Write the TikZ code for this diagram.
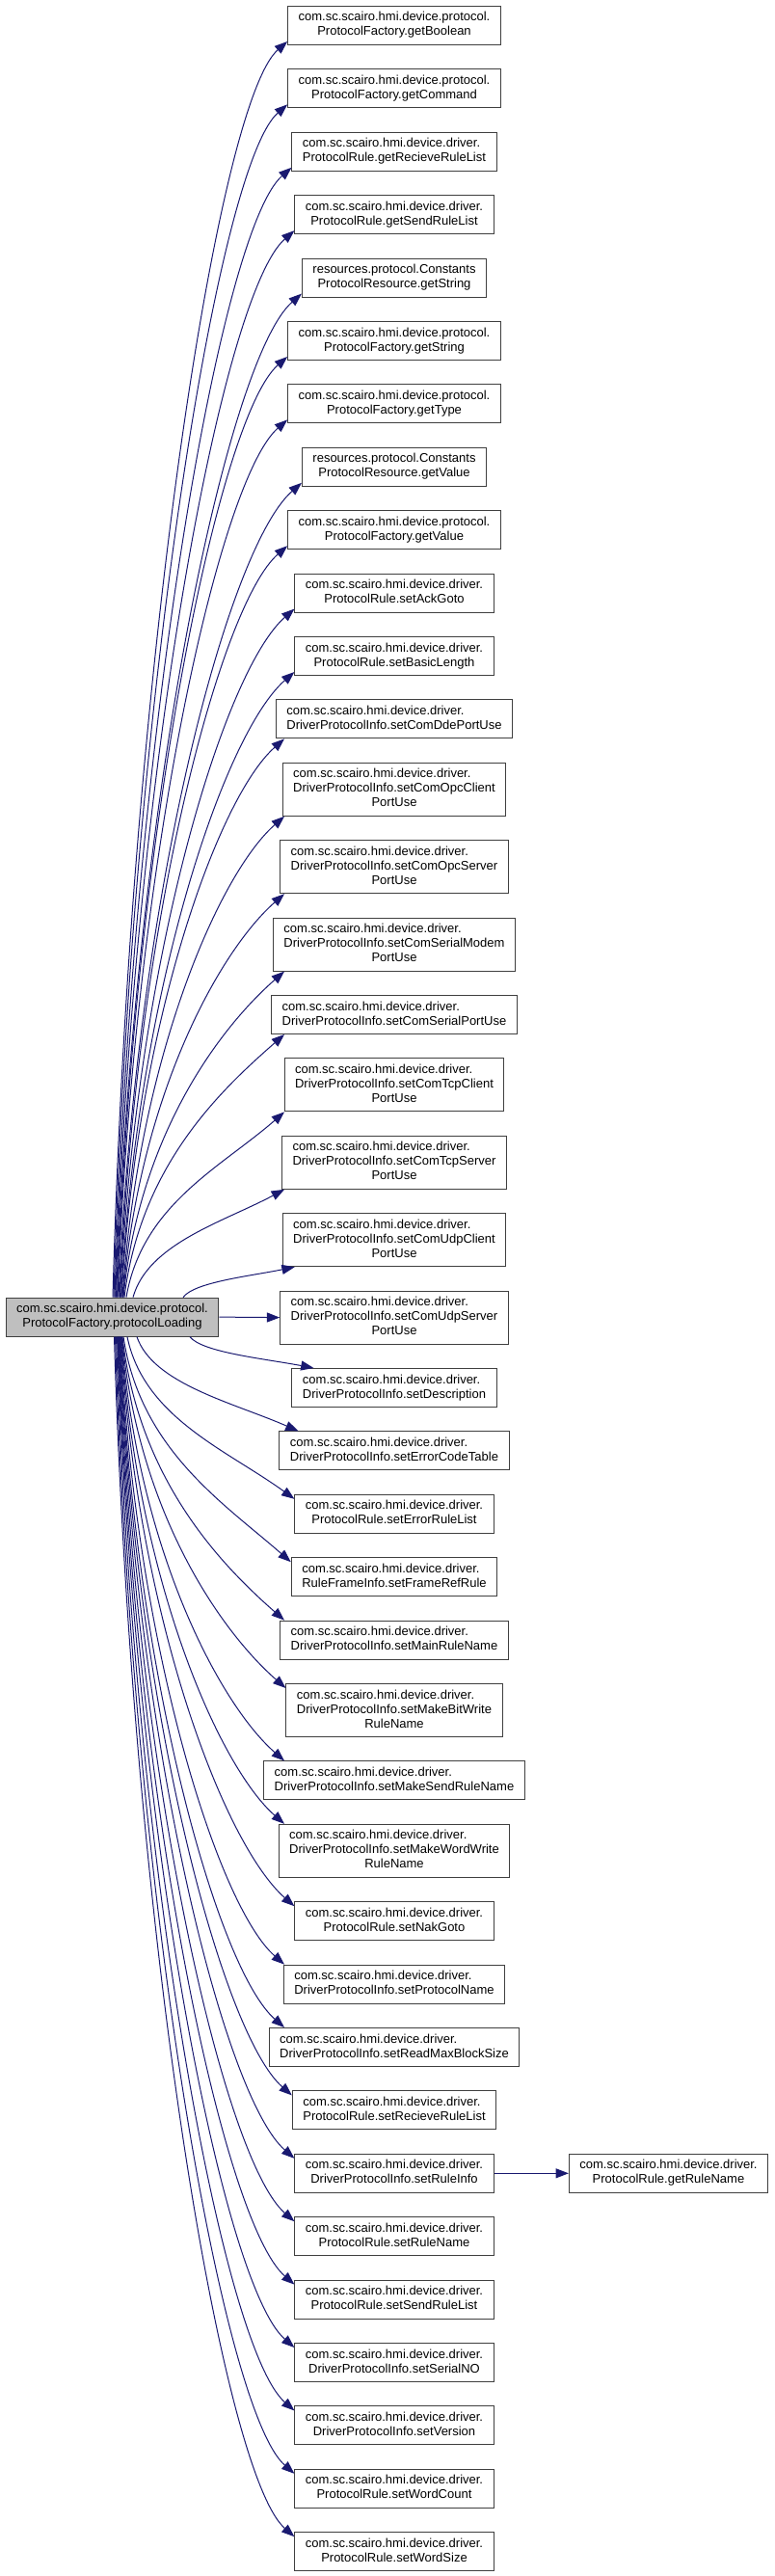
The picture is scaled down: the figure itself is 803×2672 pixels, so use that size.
\documentclass[tikz,border=0pt]{standalone}
\usepackage{fontspec}
\setmainfont{Liberation Sans}
\usetikzlibrary{calc,arrows.meta}
\definecolor{edgecol}{RGB}{25,25,112}
\definecolor{bordercol}{RGB}{64,64,64}
\definecolor{mainfill}{RGB}{191,191,191}
\newcommand\twol[2]{\begin{tabular}{@{}l@{}}#1\\\multicolumn{1}{@{}c@{}}{#2}\end{tabular}}
\newcommand\threel[3]{\begin{tabular}{@{}l@{}}#1\\#2\\\multicolumn{1}{@{}c@{}}{#3}\end{tabular}}
\newcommand\pkp{com.sc.scairo.hmi.device.protocol.}
\newcommand\pkd{com.sc.scairo.hmi.device.driver.}
\newcommand\pkr{resources.protocol.Constants}
% upward edge, automatic end point
\newcommand\upedge[2]{%
 \draw[callarrow] let \p1=($(main.north)+(#1,0)$), \p3=(#2.south west),
  \p2=({max(\x3,221.25pt)},{\y3+3pt*(\x3>221.2pt)}) in
  (\p1) .. controls ({\x1+0.1*(\x2-\x1)},{\y1+0.5*(\y2-\y1)}) and ({\x1+0.6*(\x2-\x1)},{\y2-min(0.35*(\x2-\x1),0.3*abs(\y2-\y1))}) .. (\p2);}
% upward edge, given end point
\newcommand\upedgeat[2]{%
 \draw[callarrow] let \p1=($(main.north)+(#1,0)$), \p2=(#2) in
  (\p1) .. controls ({\x1+0.1*(\x2-\x1)},{\y1+0.5*(\y2-\y1)}) and ({\x1+0.6*(\x2-\x1)},{\y2-min(0.35*(\x2-\x1),0.3*abs(\y2-\y1))}) .. (\p2);}
% downward edge, automatic end point
\newcommand\downedge[2]{%
 \draw[callarrow] let \p1=($(main.south)+(#1,0)$), \p3=(#2.north west),
  \p2=({max(\x3,221.25pt)},{\y3-3.75pt*(\x3>221.2pt)}) in
  (\p1) .. controls ({\x1+0.1*(\x2-\x1)},{\y1+0.5*(\y2-\y1)}) and ({\x1+0.6*(\x2-\x1)},{\y2+min(0.35*(\x2-\x1),0.3*abs(\y2-\y1))}) .. (\p2);}
% downward edge, given end point
\newcommand\downedgeat[2]{%
 \draw[callarrow] let \p1=($(main.south)+(#1,0)$), \p2=(#2) in
  (\p1) .. controls ({\x1+0.1*(\x2-\x1)},{\y1+0.5*(\y2-\y1)}) and ({\x1+0.6*(\x2-\x1)},{\y2+min(0.35*(\x2-\x1),0.3*abs(\y2-\y1))}) .. (\p2);}
\tikzset{
  fn/.style={draw=bordercol, line width=0.75pt, fill=white, inner xsep=8.25pt, inner ysep=3.75pt,
    font=\fontsize{9.75pt}{11.25pt}\selectfont, anchor=north},
  mainnode/.style={fn, fill=mainfill, anchor=center},
  callarrow/.style={draw=edgecol, line width=0.75pt, -{Triangle[length=10pt,width=7.5pt]}}
}
\begin{document}
\begin{tikzpicture}[x=0.75pt,y=-0.75pt]
\useasboundingbox (0,0) rectangle (803,2672);
\node[fn] (n1) at (409,6.0) {\twol{\pkp}{ProtocolFactory.getBoolean}};
\node[fn] (n2) at (409,71.4) {\twol{\pkp}{ProtocolFactory.getCommand}};
\node[fn] (n3) at (409,136.8) {\twol{\pkd}{ProtocolRule.getRecieveRuleList}};
\node[fn] (n4) at (409,202.2) {\twol{\pkd}{ProtocolRule.getSendRuleList}};
\node[fn] (n5) at (409,267.6) {\twol{\pkr}{ProtocolResource.getString}};
\node[fn] (n6) at (409,333.0) {\twol{\pkp}{ProtocolFactory.getString}};
\node[fn] (n7) at (409,398.4) {\twol{\pkp}{ProtocolFactory.getType}};
\node[fn] (n8) at (409,463.8) {\twol{\pkr}{ProtocolResource.getValue}};
\node[fn] (n9) at (409,529.2) {\twol{\pkp}{ProtocolFactory.getValue}};
\node[fn] (n10) at (409,594.6) {\twol{\pkd}{ProtocolRule.setAckGoto}};
\node[fn] (n11) at (409,660.0) {\twol{\pkd}{ProtocolRule.setBasicLength}};
\node[fn] (n12) at (409,725.4) {\twol{\pkd}{DriverProtocolInfo.setComDdePortUse}};
\node[fn] (n13) at (409,790.8) {\threel{\pkd}{DriverProtocolInfo.setComOpcClient}{PortUse}};
\node[fn] (n14) at (409,871.2) {\threel{\pkd}{DriverProtocolInfo.setComOpcServer}{PortUse}};
\node[fn] (n15) at (409,951.6) {\threel{\pkd}{DriverProtocolInfo.setComSerialModem}{PortUse}};
\node[fn] (n16) at (409,1032.0) {\twol{\pkd}{DriverProtocolInfo.setComSerialPortUse}};
\node[fn] (n17) at (409,1097.4) {\threel{\pkd}{DriverProtocolInfo.setComTcpClient}{PortUse}};
\node[fn] (n18) at (409,1177.8) {\threel{\pkd}{DriverProtocolInfo.setComTcpServer}{PortUse}};
\node[fn] (n19) at (409,1258.2) {\threel{\pkd}{DriverProtocolInfo.setComUdpClient}{PortUse}};
\node[fn] (n20) at (409,1338.6) {\threel{\pkd}{DriverProtocolInfo.setComUdpServer}{PortUse}};
\node[fn] (n21) at (409,1419.0) {\twol{\pkd}{DriverProtocolInfo.setDescription}};
\node[fn] (n22) at (409,1484.4) {\twol{\pkd}{DriverProtocolInfo.setErrorCodeTable}};
\node[fn] (n23) at (409,1549.8) {\twol{\pkd}{ProtocolRule.setErrorRuleList}};
\node[fn] (n24) at (409,1615.2) {\twol{\pkd}{RuleFrameInfo.setFrameRefRule}};
\node[fn] (n25) at (409,1680.6) {\twol{\pkd}{DriverProtocolInfo.setMainRuleName}};
\node[fn] (n26) at (409,1746.0) {\threel{\pkd}{DriverProtocolInfo.setMakeBitWrite}{RuleName}};
\node[fn] (n27) at (409,1826.4) {\twol{\pkd}{DriverProtocolInfo.setMakeSendRuleName}};
\node[fn] (n28) at (409,1891.8) {\threel{\pkd}{DriverProtocolInfo.setMakeWordWrite}{RuleName}};
\node[fn] (n29) at (409,1972.2) {\twol{\pkd}{ProtocolRule.setNakGoto}};
\node[fn] (n30) at (409,2037.6) {\twol{\pkd}{DriverProtocolInfo.setProtocolName}};
\node[fn] (n31) at (409,2103.0) {\twol{\pkd}{DriverProtocolInfo.setReadMaxBlockSize}};
\node[fn] (n32) at (409,2168.4) {\twol{\pkd}{ProtocolRule.setRecieveRuleList}};
\node[fn] (n33) at (409,2233.8) {\twol{\pkd}{DriverProtocolInfo.setRuleInfo}};
\node[fn] (n34) at (409,2299.2) {\twol{\pkd}{ProtocolRule.setRuleName}};
\node[fn] (n35) at (409,2364.6) {\twol{\pkd}{ProtocolRule.setSendRuleList}};
\node[fn] (n36) at (409,2430.0) {\twol{\pkd}{DriverProtocolInfo.setSerialNO}};
\node[fn] (n37) at (409,2495.4) {\twol{\pkd}{DriverProtocolInfo.setVersion}};
\node[fn] (n38) at (409,2560.8) {\twol{\pkd}{ProtocolRule.setWordCount}};
\node[fn] (n39) at (409,2626.2) {\twol{\pkd}{ProtocolRule.setWordSize}};
\node[fn] (rn) at (693.5,2233.8) {\twol{\pkd}{ProtocolRule.getRuleName}};
\node[mainnode] (main) at (116.5,1366.1) {\twol{\pkp}{ProtocolFactory.protocolLoading}};
% edges upward
\upedge{0.5}{n1}
\upedge{1.5}{n2}
\upedge{2.5}{n3}
\upedge{3.3}{n4}
\upedge{4}{n5}
\upedge{5}{n6}
\upedge{5.5}{n7}
\upedge{6.5}{n8}
\upedge{7.5}{n9}
\upedge{8}{n10}
\upedge{9}{n11}
\upedge{9.5}{n12}
\upedge{10.5}{n13}
\upedge{11}{n14}
\upedge{11.5}{n15}
\upedge{12.5}{n16}
\upedge{14.5}{n17}
\upedge{21.5}{n18}
\upedgeat{73.5}{$(n19.south west)+(13,0)$}
\draw[callarrow] (main.east) -- (n20.west);
% edges downward
\downedgeat{80.5}{$(n21.north west)+(23,0)$}
\downedgeat{25.5}{$(n22.north west)+(20,0)$}
\downedge{15.5}{n23}
\downedge{11.5}{n24}
\downedge{10.5}{n25}
\downedge{10}{n26}
\downedge{9.5}{n27}
\downedge{9}{n28}
\downedge{8.5}{n29}
\downedge{8}{n30}
\downedge{7.5}{n31}
\downedge{7}{n32}
\downedge{6.5}{n33}
\downedge{6}{n34}
\downedge{5.5}{n35}
\downedge{5}{n36}
\downedge{4}{n37}
\downedge{3}{n38}
\downedge{2}{n39}
\draw[callarrow] (n33) -- (rn);
\end{tikzpicture}
\end{document}
